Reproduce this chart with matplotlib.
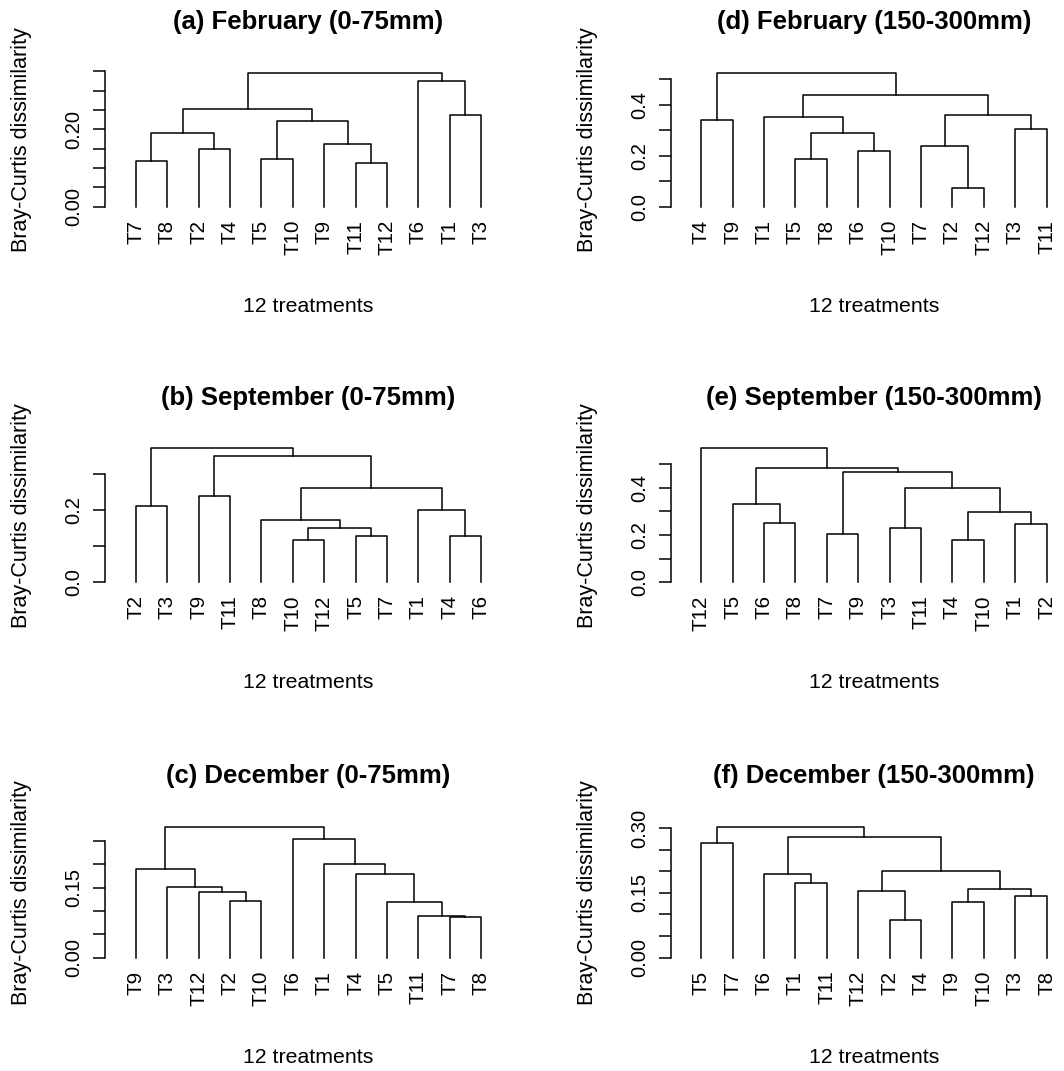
import matplotlib.pyplot as plt

plt.rcParams['font.family'] = ['Liberation Sans', 'DejaVu Sans']

# each panel: leaf order, merges (leaf name or index of an earlier merge), merge heights
# (a) February 0-75mm
leaves_a = ["T7", "T8", "T2", "T4", "T5", "T10", "T9", "T11", "T12", "T6", "T1", "T3"]
merges_a = [("T11", "T12"), ("T7", "T8"), ("T5", "T10"), ("T2", "T4"), ("T9", 0), (1, 3),
            (2, 4), ("T1", "T3"), (5, 6), ("T6", 7), (8, 9)]
heights_a = [0.114, 0.118, 0.123, 0.150, 0.163, 0.191, 0.222, 0.236, 0.253, 0.325, 0.346]
yticks_a = [0.0, 0.05, 0.10, 0.15, 0.20, 0.25, 0.30, 0.35]
ylabels_a = ["0.00", "", "", "", "0.20", "", "", ""]

# (b) September 0-75mm
leaves_b = ["T2", "T3", "T9", "T11", "T8", "T10", "T12", "T5", "T7", "T1", "T4", "T6"]
merges_b = [("T10", "T12"), ("T4", "T6"), ("T5", "T7"), (0, 2), ("T8", 3), ("T1", 1),
            ("T2", "T3"), ("T9", "T11"), (4, 5), (7, 8), (6, 9)]
heights_b = [0.117, 0.127, 0.128, 0.149, 0.171, 0.201, 0.212, 0.239, 0.262, 0.349, 0.371]
yticks_b = [0.0, 0.1, 0.2, 0.3]
ylabels_b = ["0.0", "", "0.2", ""]

# (c) December 0-75mm
leaves_c = ["T9", "T3", "T12", "T2", "T10", "T6", "T1", "T4", "T5", "T11", "T7", "T8"]
merges_c = [("T7", "T8"), ("T11", 0), ("T5", 1), ("T2", "T10"), ("T12", 3), ("T3", 4),
            ("T4", 2), ("T9", 5), ("T1", 6), ("T6", 8), (7, 9)]
heights_c = [0.0875, 0.089, 0.120, 0.1225, 0.140, 0.152, 0.179, 0.190, 0.200, 0.254, 0.281]
yticks_c = [0.0, 0.05, 0.10, 0.15, 0.20, 0.25]
ylabels_c = ["0.00", "", "", "0.15", "", ""]

# (d) February 150-300mm
leaves_d = ["T4", "T9", "T1", "T5", "T8", "T6", "T10", "T7", "T2", "T12", "T3", "T11"]
merges_d = [("T2", "T12"), ("T5", "T8"), ("T6", "T10"), ("T7", 0), (1, 2), ("T3", "T11"),
            ("T4", "T9"), ("T1", 4), (3, 5), (7, 8), (6, 9)]
heights_d = [0.073, 0.187, 0.219, 0.236, 0.290, 0.304, 0.338, 0.352, 0.358, 0.436, 0.525]
yticks_d = [0.0, 0.1, 0.2, 0.3, 0.4, 0.5]
ylabels_d = ["0.0", "", "0.2", "", "0.4", ""]

# (e) September 150-300mm
leaves_e = ["T12", "T5", "T6", "T8", "T7", "T9", "T3", "T11", "T4", "T10", "T1", "T2"]
merges_e = [("T4", "T10"), ("T7", "T9"), ("T3", "T11"), ("T6", "T8"), ("T1", "T2"), (0, 4),
            ("T5", 3), (2, 5), (1, 7), (6, 8), ("T12", 9)]
heights_e = [0.179, 0.203, 0.227, 0.248, 0.247, 0.296, 0.331, 0.400, 0.465, 0.483, 0.566]
yticks_e = [0.0, 0.1, 0.2, 0.3, 0.4, 0.5]
ylabels_e = ["0.0", "", "0.2", "", "0.4", ""]

# (f) December 150-300mm
leaves_f = ["T5", "T7", "T6", "T1", "T11", "T12", "T2", "T4", "T9", "T10", "T3", "T8"]
merges_f = [("T2", "T4"), ("T9", "T10"), ("T3", "T8"), ("T12", 0), (1, 2), ("T1", "T11"),
            ("T6", 5), (3, 4), ("T5", "T7"), (6, 7), (8, 9)]
heights_f = [0.087, 0.128, 0.142, 0.155, 0.160, 0.173, 0.193, 0.200, 0.265, 0.280, 0.303]
yticks_f = [0.0, 0.05, 0.10, 0.15, 0.20, 0.25, 0.30]
ylabels_f = ["0.00", "", "", "0.15", "", "", "0.30"]

titles = ["(a) February (0-75mm)", "(b) September (0-75mm)", "(c) December (0-75mm)",
          "(d) February (150-300mm)", "(e) September (150-300mm)", "(f) December (150-300mm)"]

panels = [
    (leaves_a, merges_a, heights_a, yticks_a, ylabels_a),
    (leaves_b, merges_b, heights_b, yticks_b, ylabels_b),
    (leaves_c, merges_c, heights_c, yticks_c, ylabels_c),
    (leaves_d, merges_d, heights_d, yticks_d, ylabels_d),
    (leaves_e, merges_e, heights_e, yticks_e, ylabels_e),
    (leaves_f, merges_f, heights_f, yticks_f, ylabels_f),
]

W, H = 1064, 1071
axis_x = [105.0, 670.5]        # pixel x of the y axis line, per column
leaf_step = 31.4               # pixel distance between leaves
zero_y = [206.7, 582.2, 957.7] # pixel y of height 0, per row
span = [134.0, 134.0, 131.0]   # pixel height of the root, per row


def draw_dendro(ax, leaves, merges, heights):
    nodes = []
    for (c1, c2), h in zip(merges, heights):
        pts = []
        for c in (c1, c2):
            if isinstance(c, str):
                pts.append((leaves.index(c) + 1, 0.0))
            else:
                pts.append(nodes[c])
        (x1, y1), (x2, y2) = pts
        ax.plot([x1, x1, x2, x2], [y1, h, h, y2], color='black', lw=1.1, clip_on=False)
        nodes.append(((x1 + x2) / 2, h))


fig = plt.figure(figsize=(W / 100, H / 100), dpi=100)

for i, (leaves, merges, heights, yticks, ylabels) in enumerate(panels):
    col, row = divmod(i, 3)
    top = max(heights)
    ax_h = 1.08 * span[row]
    ax_w = 12.96 * leaf_step
    bottom = zero_y[row] + 0.04 * span[row]
    ax = fig.add_axes([axis_x[col] / W, 1 - bottom / H, ax_w / W, ax_h / H])
    draw_dendro(ax, leaves, merges, heights)
    ax.set_xlim(0.02, 12.98)
    ax.set_ylim(-0.04 * top, 1.04 * top)

    for s in ['top', 'right', 'bottom']:
        ax.spines[s].set_visible(False)
    ax.spines['left'].set_bounds(yticks[0], yticks[-1])
    ax.spines['left'].set_linewidth(1.1)
    ax.set_yticks(yticks, ylabels, rotation=90, va='center', fontsize=14.5)
    ax.tick_params(axis='y', length=8.6, width=1.1, pad=7)
    ax.set_xticks(range(1, 13), leaves, rotation=90, fontsize=14.8)
    ax.tick_params(axis='x', length=0, pad=5.5)

    cx = (axis_x[col] + ax_w / 2) / W
    region_top = zero_y[row] - 1.04 * span[row]
    fig.text(cx, 1 - (region_top - 45) / H, titles[i], ha='center', va='center',
             fontsize=18.5, fontweight='bold')
    fig.text(cx, 1 - (zero_y[row] + 100) / H, "12 treatments", ha='center', va='center',
             fontsize=15.3)
    fig.text((axis_x[col] - 83) / W, 1 - (zero_y[row] - 0.5 * span[row]) / H,
             "Bray-Curtis dissimilarity", rotation=90, ha='center', va='center', fontsize=15.5)

fig.savefig('out.png', dpi=100)
